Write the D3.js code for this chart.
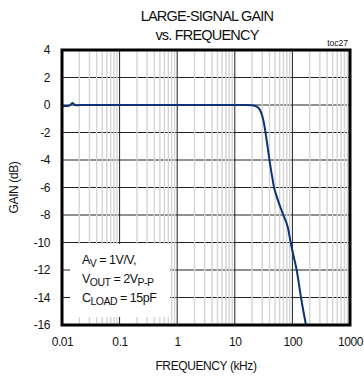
<!DOCTYPE html>
<html>
<head>
<meta charset="utf-8">
<script src="https://cdn.jsdelivr.net/npm/d3@7"></script>
<style>
  html, body { margin: 0; padding: 0; background: #fff; }
  svg text { font-family: "Liberation Sans", Arial, sans-serif; fill: #111; }
</style>
</head>
<body>
<svg id="chart" width="364" height="379"></svg>
<script>
// ---- data ----
const freqKHz = [0.01, 0.011, 0.0127, 0.014, 0.0151, 0.0162, 0.0175, 0.02, 0.05, 0.1, 1, 10, 15, 20, 24, 27.4, 30, 32.1, 35.7, 40.8, 45.5, 48, 52, 58.5, 69.5, 84, 93.3, 105, 118.6, 141, 172];
const gainDB  = [-0.1, -0.08, -0.07, 0.0, 0.15, 0.05, -0.02, 0, 0, 0, 0, 0, 0, -0.02, -0.12, -0.36, -0.8, -1.33, -2.55, -4.24, -5.45, -6.0, -6.5, -7.15, -8, -8.97, -10, -11, -12, -14, -16];
const xTickValues = [0.01, 0.1, 1, 10, 100, 1000];
const xTickLabels = ["0.01", "0.1", "1", "10", "100", "1000"];
const yTickValues = [4, 2, 0, -2, -4, -6, -8, -10, -12, -14, -16];
const titleLines = ["LARGE-SIGNAL GAIN", "vs. FREQUENCY"];

// ---- layout ----
const svg = d3.select("#chart");
const L = 62, R = 350, T = 50, B = 325;
const x = d3.scaleLog().domain([0.01, 1000]).range([L, R]);
const y = d3.scaleLinear().domain([-16, 4]).range([B, T]);

// title
svg.selectAll("text.title").data(titleLines).enter().append("text")
  .attr("class", "title")
  .attr("x", 207).attr("y", (d, i) => 21 + i * 19)
  .attr("text-anchor", "middle")
  .style("font-size", "14.5px").style("letter-spacing", "-0.8px")
  .text(d => d);
svg.append("text").attr("x", 348).attr("y", 46).attr("text-anchor", "end")
  .style("font-size", "8.5px").text("toc27");

const g = svg.append("g");

// horizontal major gridlines
g.selectAll("line.hg").data(yTickValues.filter(v => v > -16 && v < 4)).enter().append("line")
  .attr("x1", L).attr("x2", R).attr("y1", d => y(d)).attr("y2", d => y(d))
  .attr("stroke", "#222").attr("stroke-width", 1);

// vertical minor gridlines
const minors = [];
for (let dec = 0.01; dec < 1000; dec *= 10) {
  for (let m = 2; m <= 9; m++) minors.push(+(dec * m).toPrecision(3));
}
g.selectAll("line.vm").data(minors).enter().append("line")
  .attr("y1", T).attr("y2", B).attr("x1", d => x(d)).attr("x2", d => x(d))
  .attr("stroke", "#d4d4d4").attr("stroke-width", 1.4);

// vertical major gridlines
g.selectAll("line.vM").data(xTickValues.slice(1, -1)).enter().append("line")
  .attr("y1", T).attr("y2", B).attr("x1", d => x(d)).attr("x2", d => x(d))
  .attr("stroke", "#222").attr("stroke-width", 1);

// legend box (white)
g.append("rect").attr("x", 70).attr("y", y(-10) + 1.5).attr("width", 100).attr("height", 73)
  .attr("fill", "#fff");

// legend text
const leg = [
  {main: "A", sub: "V", rest: " = 1V/V,", sub2: null},
  {main: "V", sub: "OUT", rest: " = 2V", sub2: "P-P"},
  {main: "C", sub: "LOAD", rest: " = 15pF", sub2: null}
];
leg.forEach((r, i) => {
  const t = g.append("text").attr("x", 82).attr("y", 264 + i * 19)
    .style("font-size", "12.5px").style("letter-spacing", "-0.5px");
  t.append("tspan").text(r.main);
  t.append("tspan").attr("dy", 3).style("font-size", "10.5px").text(r.sub);
  t.append("tspan").attr("dy", -3).text(r.rest);
  if (r.sub2) t.append("tspan").attr("dy", 3).style("font-size", "10.5px").text(r.sub2);
});

// curve
const line = d3.line().x((d, i) => x(freqKHz[i])).y(d => y(d)).curve(d3.curveMonotoneX);
g.append("path").datum(gainDB).attr("d", line)
  .attr("fill", "none").attr("stroke", "#0d3275").attr("stroke-width", 2);

// frame
g.append("path")
  .attr("d", `M${L},${T}H${R}V${B}H${L}Z`)
  .attr("fill", "none").attr("stroke", "#000").attr("stroke-width", 3);

// axes labels
const xAxis = d3.axisBottom(x).tickValues(xTickValues).tickFormat((d, i) => xTickLabels[i]).tickSize(0).tickPadding(12);
const xa = svg.append("g").attr("transform", `translate(0,${B})`).call(xAxis);
xa.select(".domain").remove();
xa.selectAll("text").style("font-size", "12px").style("letter-spacing", "-0.4px")
  .style("font-family", "'Liberation Sans', Arial, sans-serif").attr("fill", "#111");

const yAxis = d3.axisLeft(y).tickValues(yTickValues).tickFormat(d => String(d)).tickSize(0).tickPadding(12);
const ya = svg.append("g").attr("transform", `translate(${L},0)`).call(yAxis);
ya.select(".domain").remove();
ya.selectAll("text").style("font-size", "12px").style("letter-spacing", "-0.4px")
  .style("font-family", "'Liberation Sans', Arial, sans-serif").attr("fill", "#111");

svg.append("text").attr("x", 206).attr("y", 370).attr("text-anchor", "middle")
  .style("font-size", "12px").style("letter-spacing", "-0.4px").text("FREQUENCY (kHz)");
svg.append("text").attr("transform", `translate(18,${(T + B) / 2}) rotate(-90)`)
  .attr("text-anchor", "middle").style("font-size", "12px").style("letter-spacing", "-0.4px")
  .text("GAIN (dB)");
</script>
</body>
</html>
